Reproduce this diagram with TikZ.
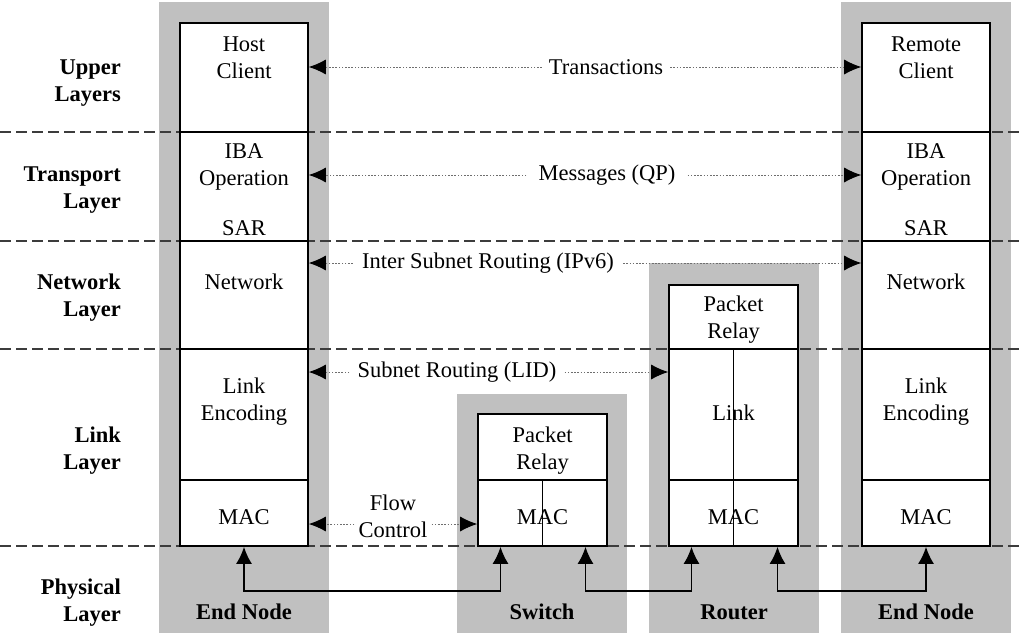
\documentclass[tikz,border=0pt]{standalone}
\usepackage{fontspec}
\setmainfont{Liberation Serif}
\usetikzlibrary{arrows.meta}
\definecolor{colgray}{RGB}{192,192,192}
\definecolor{linegray}{RGB}{60,60,60}
\definecolor{dotgray}{RGB}{110,110,110}
\begin{document}
\begin{tikzpicture}[x=1pt,y=-1pt,
  every node/.style={font=\fontsize{22.5}{27}\selectfont},
  column/.style={fill=colgray, draw=none, inner sep=0, minimum width=170pt},
  cell/.style={draw=black, line width=1.6pt, fill=white, inner sep=0},
  txt/.style={align=center, inner sep=0},
  layername/.style={align=right, anchor=east, inner sep=0,
    font=\fontsize{22.5}{27}\selectfont\bfseries},
  layerline/.style={draw=linegray, line width=1.8pt, dash pattern=on 11pt off 5pt},
  peer/.style={draw=dotgray, line width=0.9pt, dash pattern=on 1.6pt off 1.6pt},
  peertip/.style={arrows={-Latex[length=17pt,width=15pt,black]}},
  lbl/.style={align=center, inner sep=9pt},
  wire/.style={line width=1.8pt, {Latex[length=17pt,width=16pt]}-{Latex[length=17pt,width=16pt]}},
]
\useasboundingbox (0,0) rectangle (1024,635);

% grey node backgrounds
\node[column, minimum height=631pt] (gl) at (244,317.5) {};
\node[column, minimum height=631pt] (gr) at (926,317.5) {};
\node[column, minimum height=239pt] (gs) at (542,513.5) {};
\node[column, minimum height=370pt] (gro) at (734,448) {};

% layer separators
\draw[layerline] (0,132) -- (1024,132);
\draw[layerline] (0,241) -- (1024,241);
\draw[layerline] (0,349) -- (1024,349);
\draw[layerline] (0,546) -- (1024,546);

% layer names
\node[layername] (nup) at (121,83) {Upper\\Layers};
\node[layername] (ntr) at (121,190) {Transport\\Layer};
\node[layername] (nnw) at (121,298) {Network\\Layer};
\node[layername] (nlk) at (121,451) {Link\\Layer};
\node[layername] (nph) at (121,603) {Physical\\Layer};

% host end node stack
\node[cell, minimum width=128pt, minimum height=109pt] (hc) at (244,77.5) {};
\node[cell, minimum width=128pt, minimum height=109pt] (lt) at (244,186.5) {};
\node[cell, minimum width=128pt, minimum height=108pt] (ln) at (244,295) {};
\node[cell, minimum width=128pt, minimum height=131pt] (ll) at (244,414.5) {};
\node[cell, minimum width=128pt, minimum height=66pt] (lm) at (244,513) {};

% remote end node stack
\node[cell, minimum width=128pt, minimum height=109pt] (rc) at (926,77.5) {};
\node[cell, minimum width=128pt, minimum height=109pt] (rt) at (926,186.5) {};
\node[cell, minimum width=128pt, minimum height=108pt] (rn) at (926,295) {};
\node[cell, minimum width=128pt, minimum height=131pt] (rlk) at (926,414.5) {};
\node[cell, minimum width=128pt, minimum height=66pt] (rtm) at (926,513) {};

% switch stack
\node[cell, minimum width=129pt, minimum height=66pt] (sr) at (542.5,447) {};
\node[cell, minimum width=129pt, minimum height=66pt] (sm) at (542.5,513) {};
\draw[line width=1.8pt] (sm.north) -- (sm.south);

% router stack
\node[cell, minimum width=129pt, minimum height=64pt] (rr) at (733.5,317) {};
\node[cell, minimum width=129pt, minimum height=131pt] (rl) at (733.5,414.5) {};
\node[cell, minimum width=129pt, minimum height=66pt] (rm) at (733.5,513) {};
\draw[line width=1.8pt] (rl.north) -- (rm.south);

% texts inside the stacks
\node[txt] (thc) at (244,58) {Host\\Client};
\node[txt] (tlt) at (244,167) {IBA\\Operation};
\node[txt] (tls) at (244,228) {SAR};
\node[txt] (tln) at (244,282) {Network};
\node[txt] (tll) at (244,401.5) {Link\\Encoding};
\node[txt] (tlm) at (244,517) {MAC};
\node[txt] (trc) at (926,58) {Remote\\Client};
\node[txt] (trt) at (926,167) {IBA\\Operation};
\node[txt] (trs) at (926,228) {SAR};
\node[txt] (trn) at (926,282) {Network};
\node[txt] (trl) at (926,401.5) {Link\\Encoding};
\node[txt] (trm) at (926,517) {MAC};
\node[txt] (tsr) at (542.5,451) {Packet\\Relay};
\node[txt] (tsm) at (542.5,517) {MAC};
\node[txt] (trr) at (733.5,320) {Packet\\Relay};
\node[txt] (trlk) at (733.5,413) {Link};
\node[txt] (trom) at (733.5,517) {MAC};

% node names
\node[layername, anchor=center] (en1) at (244,612) {End Node};
\node[layername, anchor=center] (en2) at (926,612) {End Node};
\node[layername, anchor=center] (swn) at (542,612) {Switch};
\node[layername, anchor=center] (rtn) at (734,612) {Router};

% peer-to-peer relations
\node[lbl, inner sep=7pt] (ltr) at (606,67) {Transactions};
\draw[peer, peertip] (ltr.west) -- (hc.east |- ltr);
\draw[peer, peertip] (ltr.east) -- (rc.west |- ltr);

\node[lbl, inner sep=12pt] (lmsg) at (607,175) {Messages (QP)};
\draw[peer, peertip] (lmsg.west) -- (lt.east |- lmsg);
\draw[peer, peertip] (lmsg.east) -- (rt.west |- lmsg);

\node[lbl, inner sep=9pt] (lisr) at (488,263) {Inter Subnet Routing (IPv6)};
\draw[peer, peertip] (lisr.west) -- (ln.east |- lisr);
\draw[peer, peertip] (lisr.east) -- (rn.west |- lisr);

\node[lbl, inner sep=8pt] (lsr) at (457,372) {Subnet Routing (LID)};
\draw[peer, peertip] (lsr.west) -- (ll.east |- lsr);
\draw[peer, peertip] (lsr.east) -- (rl.west |- lsr);

\node[lbl, inner sep=4pt] (lfc) at (393,516.5) {Flow\\Control};
\coordinate (fcy) at (393,524);
\draw[peer, peertip] (lfc.west |- fcy) -- (lm.east |- fcy);
\draw[peer, peertip] (lfc.east |- fcy) -- (sm.west |- fcy);

% physical links
\draw[wire] (lm.south) -- ++(0,44) -| ([xshift=-42pt]sm.south);
\draw[wire] ([xshift=43pt]sm.south) -- ++(0,44) -| ([xshift=-42pt]rm.south);
\draw[wire] ([xshift=44pt]rm.south) -- ++(0,44) -| (rtm.south);
\end{tikzpicture}
\end{document}
